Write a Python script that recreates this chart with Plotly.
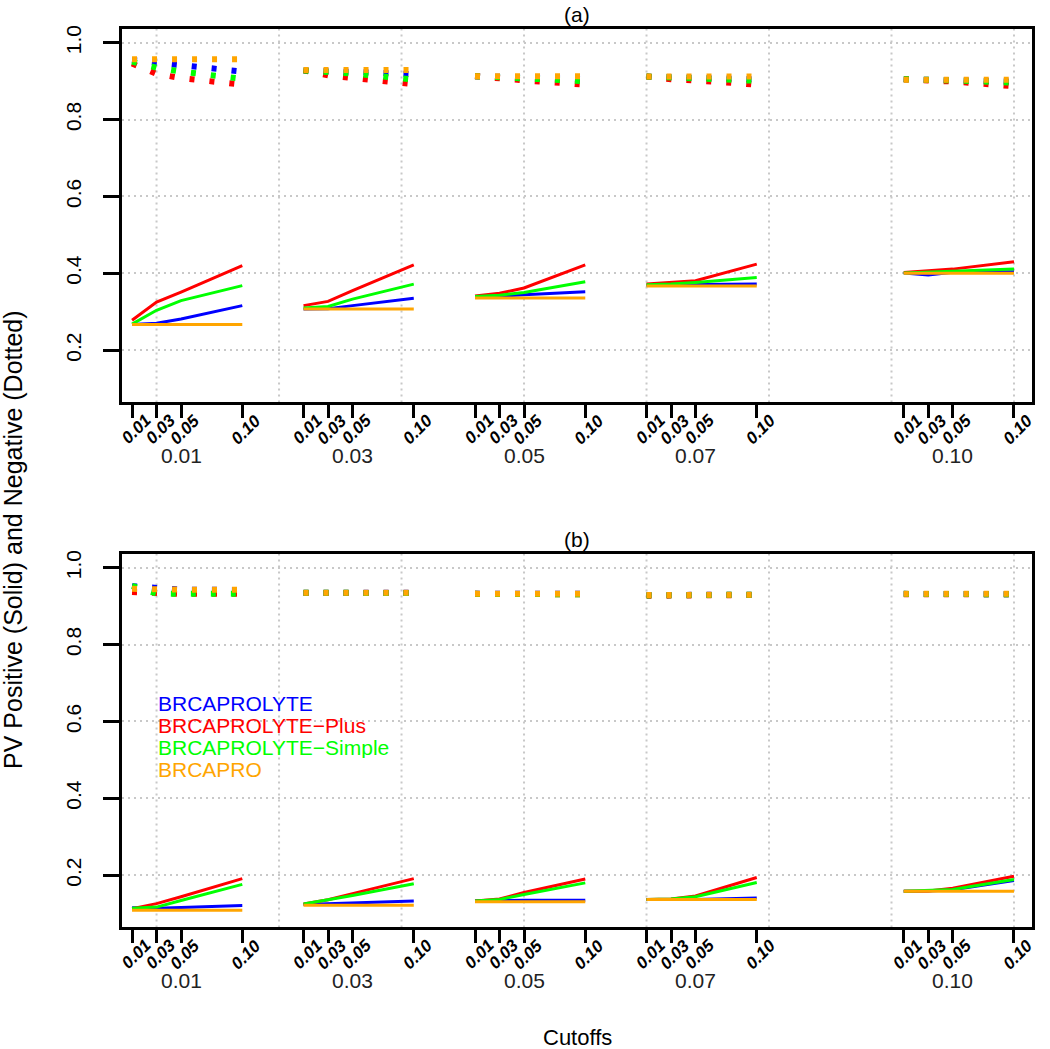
import plotly.graph_objects as go

# ---------------- data ----------------
groups = [0.01, 0.03, 0.05, 0.07, 0.10]
group_labels = ["0.01", "0.03", "0.05", "0.07", "0.10"]
cutoffs = [0.01, 0.03, 0.05, 0.10]
cutoff_labels = ["0.01", "0.03", "0.05", "0.10"]
series_names = ["BRCAPROLYTE", "BRCAPROLYTE\u2212Plus", "BRCAPROLYTE\u2212Simple", "BRCAPRO"]
series_colors = ["#0000FF", "#FF0000", "#00FF00", "#FFA500"]
y_ticks = [0.2, 0.4, 0.6, 0.8, 1.0]
grid_x = [0.1, 0.2, 0.3, 0.4, 0.5, 0.6, 0.7, 0.8]

# panel (a) PV positive (solid), one row per group, one value per cutoff
ppv_a_blue = [[0.267, 0.270, 0.281, 0.316], [0.307, 0.308, 0.316, 0.335], [0.338, 0.340, 0.344, 0.352],
              [0.369, 0.369, 0.371, 0.372], [0.401, 0.396, 0.403, 0.404]]
ppv_a_red = [[0.278, 0.325, 0.351, 0.420], [0.316, 0.327, 0.355, 0.422], [0.341, 0.348, 0.362, 0.422],
             [0.372, 0.376, 0.381, 0.424], [0.402, 0.407, 0.411, 0.430]]
ppv_a_green = [[0.268, 0.304, 0.329, 0.368], [0.310, 0.314, 0.333, 0.372], [0.340, 0.343, 0.350, 0.378],
               [0.370, 0.372, 0.376, 0.389], [0.401, 0.403, 0.405, 0.411]]
ppv_a_orange = [[0.267, 0.267, 0.267, 0.267], [0.307, 0.307, 0.307, 0.307], [0.336, 0.336, 0.336, 0.336],
                [0.367, 0.367, 0.367, 0.367], [0.400, 0.400, 0.400, 0.400]]
# panel (a) PV negative (dotted)
npv_a_blue = [[0.955, 0.948, 0.941, 0.925], [0.928, 0.927, 0.924, 0.918], [0.913, 0.912, 0.910, 0.905],
              [0.912, 0.911, 0.909, 0.905], [0.905, 0.904, 0.902, 0.899]]
npv_a_red = [[0.946, 0.919, 0.908, 0.891], [0.928, 0.915, 0.908, 0.892], [0.913, 0.906, 0.902, 0.891],
             [0.912, 0.905, 0.902, 0.891], [0.905, 0.903, 0.899, 0.887]]
npv_a_green = [[0.951, 0.935, 0.925, 0.906], [0.928, 0.925, 0.920, 0.904], [0.913, 0.910, 0.907, 0.900],
               [0.912, 0.910, 0.907, 0.901], [0.905, 0.904, 0.902, 0.896]]
npv_a_orange = [[0.957, 0.957, 0.957, 0.957], [0.929, 0.929, 0.929, 0.929], [0.913, 0.913, 0.913, 0.913],
                [0.912, 0.912, 0.912, 0.912], [0.904, 0.904, 0.904, 0.904]]

# panel (b) PV positive (solid)
ppv_b_blue = [[0.115, 0.114, 0.116, 0.121], [0.124, 0.126, 0.128, 0.133], [0.133, 0.134, 0.135, 0.135],
              [0.137, 0.137, 0.137, 0.141], [0.158, 0.159, 0.162, 0.186]]
ppv_b_red = [[0.113, 0.126, 0.144, 0.191], [0.125, 0.136, 0.152, 0.191], [0.133, 0.138, 0.155, 0.190],
             [0.137, 0.138, 0.146, 0.194], [0.158, 0.159, 0.166, 0.197]]
ppv_b_green = [[0.114, 0.117, 0.134, 0.176], [0.125, 0.136, 0.147, 0.178], [0.133, 0.137, 0.150, 0.180],
               [0.137, 0.138, 0.144, 0.181], [0.158, 0.160, 0.163, 0.189]]
ppv_b_orange = [[0.109, 0.109, 0.109, 0.109], [0.122, 0.122, 0.122, 0.122], [0.131, 0.131, 0.131, 0.131],
                [0.137, 0.137, 0.137, 0.137], [0.158, 0.158, 0.158, 0.158]]
# panel (b) PV negative (dotted)
npv_b_blue = [[0.952, 0.946, 0.943, 0.942], [0.935, 0.935, 0.935, 0.935], [0.932, 0.932, 0.932, 0.932],
              [0.929, 0.929, 0.930, 0.930], [0.932, 0.932, 0.931, 0.931]]
npv_b_red = [[0.937, 0.933, 0.932, 0.932], [0.934, 0.934, 0.934, 0.934], [0.932, 0.931, 0.931, 0.931],
             [0.927, 0.928, 0.929, 0.929], [0.931, 0.931, 0.931, 0.931]]
npv_b_green = [[0.953, 0.933, 0.932, 0.932], [0.935, 0.934, 0.934, 0.934], [0.932, 0.932, 0.931, 0.931],
               [0.928, 0.929, 0.930, 0.930], [0.932, 0.931, 0.931, 0.931]]
npv_b_orange = [[0.945, 0.943, 0.943, 0.943], [0.935, 0.935, 0.935, 0.935], [0.932, 0.932, 0.932, 0.932],
                [0.929, 0.929, 0.930, 0.930], [0.932, 0.932, 0.932, 0.932]]

panels = [
    dict(x="x", y="y", title="(a)",
         ppv=[ppv_a_blue, ppv_a_red, ppv_a_green, ppv_a_orange],
         npv=[npv_a_blue, npv_a_red, npv_a_green, npv_a_orange]),
    dict(x="x2", y="y2", title="(b)",
         ppv=[ppv_b_blue, ppv_b_red, ppv_b_green, ppv_b_orange],
         npv=[npv_b_blue, npv_b_red, npv_b_green, npv_b_orange]),
]

GROUP_SPREAD = 7.0  # x position = GROUP_SPREAD * group + cutoff


def xpos(g, c):
    return GROUP_SPREAD * g + c


fig = go.Figure()
for p in panels:
    for kind in ("ppv", "npv"):
        for s, color in enumerate(series_colors):
            for gi, g in enumerate(groups):
                fig.add_trace(go.Scatter(
                    x=[xpos(g, c) for c in cutoffs],
                    y=p[kind][s][gi],
                    mode="lines",
                    line=dict(color=color, width=3 if kind == "ppv" else 6,
                              dash="solid" if kind == "ppv" else "5px,15px"),
                    xaxis=p["x"], yaxis=p["y"],
                    showlegend=False, hoverinfo="skip",
                ))

W, H = 1050, 1049
x_dom = [122 / W, 1032 / W]
ya_dom = [1 - 400 / H, 1 - 25 / H]
yb_dom = [1 - 927 / H, 1 - 552 / H]
x_range = [0.0718, 0.8147]
y_range = [0.064, 1.036]

tickvals = [xpos(g, c) for g in groups for c in cutoffs]
ticktext = [lab for g in groups for lab in cutoff_labels]

FONT = "Liberation Sans, Arial, Helvetica, sans-serif"


def xaxis_cfg(anchor):
    return dict(domain=x_dom, anchor=anchor, range=x_range, tickmode="array",
                tickvals=tickvals, ticktext=ticktext, showticklabels=False,
                ticks="outside", ticklen=13, tickwidth=2.5, tickcolor="black",
                showline=True, linecolor="black", linewidth=3, mirror=True,
                showgrid=False, zeroline=False)


def yaxis_cfg(dom, anchor):
    return dict(domain=dom, anchor=anchor, range=y_range, tickmode="array",
                tickvals=y_ticks, ticktext=["%.1f" % v for v in y_ticks], tickangle=-90,
                ticks="outside", ticklen=16, tickwidth=2.5, tickcolor="black",
                tickfont=dict(family=FONT, size=21, color="black"),
                ticklabelstandoff=14,
                showline=True, linecolor="black", linewidth=3, mirror=True,
                showgrid=True, gridcolor="#c8c8c8", gridwidth=2, griddash="2px,4px",
                zeroline=False)


shapes = []
for p in panels:
    for gx in grid_x:
        shapes.append(dict(type="line", xref=p["x"], yref=p["y"] + " domain",
                           x0=gx, x1=gx, y0=0, y1=1, layer="below",
                           line=dict(color="#c8c8c8", width=2, dash="2px,4px")))

annotations = []
for p in panels:
    annotations.append(dict(text=p["title"], xref=p["x"] + " domain", yref=p["y"] + " domain",
                            x=0.5, y=1, yshift=14, showarrow=False, xanchor="center", yanchor="middle",
                            font=dict(family=FONT, size=21, color="black")))
    # rotated cut-off tick labels (bold italic), placed at the axis tick values
    for tv, tt in zip(tickvals, ticktext):
        annotations.append(dict(text="<b><i>%s</i></b>" % tt, xref=p["x"], yref=p["y"] + " domain",
                                x=tv, y=0, xshift=4, yshift=-27, textangle=-45, showarrow=False,
                                xanchor="center", yanchor="middle",
                                font=dict(family=FONT, size=17, color="black")))
    for g, lab in zip(groups, group_labels):
        annotations.append(dict(text=lab, xref=p["x"], yref=p["y"] + " domain",
                                x=xpos(g, cutoffs[2]), y=0, yshift=-53, showarrow=False,
                                xanchor="center", yanchor="middle",
                                font=dict(family=FONT, size=21, color="#222222")))

legend_y = [0.647, 0.590, 0.532, 0.475]
for name, color, ly in zip(series_names, series_colors, legend_y):
    annotations.append(dict(text=name, xref="x2", yref="y2", x=0.1, y=ly, showarrow=False,
                            xanchor="left", yanchor="middle", height=21, borderpad=0,
                            font=dict(family=FONT, size=21, color=color)))

annotations.append(dict(text="PV Positive (Solid) and Negative (Dotted)", xref="paper", yref="paper",
                        x=13 / W, y=1 - 538 / H, textangle=-90, showarrow=False,
                        xanchor="center", yanchor="middle",
                        font=dict(family=FONT, size=25, color="black")))
annotations.append(dict(text="Cutoffs", xref="paper", yref="paper",
                        x=577 / W, y=1 - 1037 / H, showarrow=False,
                        xanchor="center", yanchor="middle",
                        font=dict(family=FONT, size=22, color="black")))

fig.update_layout(
    width=W, height=H, margin=dict(l=0, r=0, t=0, b=0),
    paper_bgcolor="white", plot_bgcolor="white", showlegend=False,
    xaxis=xaxis_cfg("y"), yaxis=yaxis_cfg(ya_dom, "x"),
    xaxis2=xaxis_cfg("y2"), yaxis2=yaxis_cfg(yb_dom, "x2"),
    shapes=shapes, annotations=annotations,
)

fig.write_html("out.html", config={"displayModeBar": False},
               post_script="document.body.style.margin='0';document.body.style.overflow='hidden';")
